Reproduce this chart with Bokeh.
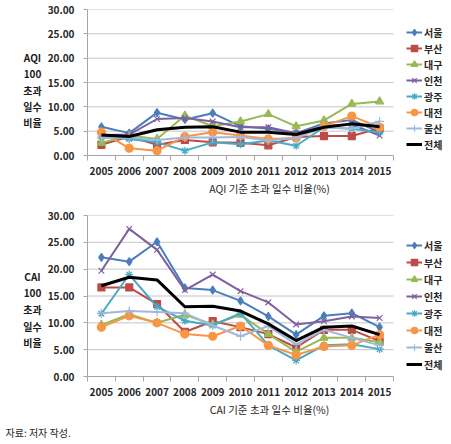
from bokeh.plotting import figure
from bokeh.models import (Legend, LegendItem, Title, FixedTicker,
                          NumeralTickFormatter, Range1d)
from bokeh.core.properties import value
from bokeh.layouts import column, row
from bokeh.embed import file_html
from bokeh.resources import INLINE

# ---------------- data ----------------
years = ["2005", "2006", "2007", "2008", "2009", "2010",
         "2011", "2012", "2013", "2014", "2015"]
regions = ["서울", "부산", "대구", "인천", "광주", "대전", "울산", "전체"]
y_ticks = [0, 5, 10, 15, 20, 25, 30]

aqi_seoul = [5.9, 4.6, 8.8, 7.4, 8.7, 6.0, 5.5, 4.6, 6.6, 7.3, 4.8]
aqi_busan = [2.2, 3.9, 2.2, 3.2, 2.7, 2.6, 2.1, 3.8, 4.0, 4.0, 5.6]
aqi_daegu = [2.6, 4.1, 3.4, 8.2, 6.0, 7.0, 8.5, 6.0, 7.2, 10.6, 11.1]
aqi_incheon = [4.2, 4.3, 7.5, 7.7, 7.0, 5.8, 5.8, 4.6, 6.0, 6.4, 4.1]
aqi_gwangju = [3.8, 3.4, 2.7, 1.0, 2.7, 2.3, 3.1, 2.0, 5.8, 5.5, 4.8]
aqi_daejeon = [4.8, 1.5, 1.0, 3.9, 4.8, 4.1, 3.4, 3.6, 6.0, 8.1, 5.8]
aqi_ulsan = [3.6, 3.7, 3.2, 3.7, 3.7, 3.8, 3.1, 3.6, 5.8, 5.5, 7.0]
aqi_total = [4.2, 3.9, 5.3, 5.8, 5.9, 4.8, 4.8, 4.3, 5.8, 6.5, 5.9]

cai_seoul = [22.2, 21.4, 25.1, 16.5, 16.1, 14.1, 11.2, 7.8, 11.3, 11.8, 9.2]
cai_busan = [16.6, 16.6, 13.5, 8.3, 10.3, 9.2, 7.9, 5.4, 8.7, 8.7, 6.6]
cai_daegu = [9.6, 11.6, 10.0, 11.5, 9.7, 11.5, 7.9, 4.6, 7.2, 7.2, 6.4]
cai_incheon = [19.7, 27.5, 23.6, 16.1, 19.0, 15.9, 13.8, 9.7, 10.3, 11.2, 10.9]
cai_gwangju = [11.7, 19.0, 13.0, 10.4, 9.5, 11.8, 5.8, 3.0, 5.8, 6.0, 5.1]
cai_daejeon = [9.2, 11.3, 10.0, 7.9, 7.5, 9.4, 5.8, 4.0, 5.6, 5.8, 7.8]
cai_ulsan = [11.8, 12.2, 12.0, 11.8, 9.5, 7.5, 9.4, 6.0, 8.7, 7.2, 5.8]
cai_total = [16.9, 18.5, 18.0, 13.0, 13.1, 12.2, 9.8, 6.7, 9.2, 9.4, 7.8]

aqi_series = [aqi_seoul, aqi_busan, aqi_daegu, aqi_incheon,
              aqi_gwangju, aqi_daejeon, aqi_ulsan, aqi_total]
cai_series = [cai_seoul, cai_busan, cai_daegu, cai_incheon,
              cai_gwangju, cai_daejeon, cai_ulsan, cai_total]

aqi_axis_lines = ["AQI", "100", "초과", "일수", "비율"]
cai_axis_lines = ["CAI", "100", "초과", "일수", "비율"]
aqi_title = "AQI 기준 초과 일수 비율(%)"
cai_title = "CAI 기준 초과 일수 비율(%)"
source_note = "자료: 저자 작성."

# ---------------- styles ----------------
FONT = "Noto Sans CJK KR"
colors = ["#4A7EBB", "#BE4B48", "#98B954", "#7D60A0",
          "#46AAC5", "#F79646", "#A0B8DD", "#000000"]
markers = ["diamond", "square", "triangle", "x", "asterisk",
           "circle", "cross", None]
msizes = [8, 7, 8, 8, 8, 8, 9, 0]
PX_PER_CAT = 27.82
LABEL_W = 44
LEFT = 42
FRAME_W = 364
TOTAL_W = LABEL_W + LEFT + FRAME_W


def text_panel(width, height):
    """Axis-less panel whose data units are pixels (y downwards)."""
    q = figure(frame_width=width, frame_height=height,
               min_border_left=0, min_border_right=0,
               min_border_top=0, min_border_bottom=0,
               x_range=Range1d(0, width), y_range=Range1d(height, 0),
               x_axis_type=None, y_axis_type=None,
               output_backend="svg", toolbar_location=None)
    q.outline_line_color = None
    q.grid.grid_line_color = None
    return q


def make_label_panel(lines, fig_h, first_y, step):
    q = text_panel(LABEL_W, fig_h)
    ys = [first_y + i * step for i in range(len(lines))]
    q.text(x=[32] * len(lines), y=ys, text=lines,
           text_align="center", text_baseline="middle",
           text_font=value(FONT), text_font_style="bold",
           text_font_size="10px", text_color="#1A1A1A")
    return q


def make_chart(series, frame_h, top_b, bottom_b, title,
               legend_loc, legend_lh, legend_sp):
    n = len(years)
    xs = [i + 0.5 for i in range(n)]
    p = figure(frame_width=FRAME_W, frame_height=frame_h,
               min_border_left=LEFT, min_border_right=0,
               min_border_top=top_b, min_border_bottom=bottom_b,
               x_range=Range1d(0, FRAME_W / PX_PER_CAT), y_range=Range1d(0, 30),
               output_backend="svg", toolbar_location=None)
    p.outline_line_color = None
    p.background_fill_color = "white"
    p.border_fill_color = "white"

    # y axis
    p.yaxis.ticker = FixedTicker(ticks=y_ticks)
    p.yaxis.formatter = NumeralTickFormatter(format="0.00")
    p.yaxis.major_tick_in = 0
    p.yaxis.major_tick_out = 4
    p.yaxis.minor_tick_line_color = None
    p.yaxis.axis_line_color = "#A6A6A6"
    p.yaxis.major_tick_line_color = "#A6A6A6"
    p.yaxis.major_label_standoff = 9

    # x axis: labels at category centres, ticks at category borders
    p.xaxis.bounds = (0, n)
    p.xaxis.ticker = FixedTicker(ticks=xs, minor_ticks=list(range(n + 1)))
    p.xaxis.major_label_overrides = {x: y for x, y in zip(xs, years)}
    p.xaxis.major_tick_line_color = None
    p.xaxis.major_tick_in = 0
    p.xaxis.major_tick_out = 0
    p.xaxis.minor_tick_in = 0
    p.xaxis.minor_tick_out = 5
    p.xaxis.minor_tick_line_color = "#A6A6A6"
    p.xaxis.axis_line_color = "#A6A6A6"
    p.xaxis.major_label_standoff = 6

    for ax in (p.xaxis, p.yaxis):
        ax.major_label_text_font = FONT
        ax.major_label_text_font_style = "bold"
        ax.major_label_text_font_size = "10px"
        ax.major_label_text_color = "#262626"

    # grid lines only across the data area
    p.xgrid.grid_line_color = None
    p.ygrid.grid_line_color = None
    gy = y_ticks[1:]
    p.segment(x0=[0] * len(gy), x1=[n] * len(gy), y0=gy, y1=gy,
              line_color="#C4C4C4", line_width=1)

    items = []
    for name, vals, c, m, ms in zip(regions, series, colors, markers, msizes):
        lw = 3 if m is None else 2
        r_line = p.line(xs, vals, line_color=c, line_width=lw)
        rends = [r_line]
        if m is not None:
            r_s = p.scatter(xs, vals, marker=m, size=ms, fill_color=c,
                            line_color=c, line_width=1.2)
            rends.append(r_s)
        items.append(LegendItem(label=name, renderers=rends))

    legend = Legend(items=items, location=legend_loc)
    legend.padding = 0
    legend.margin = 0
    legend.spacing = legend_sp
    legend.label_height = legend_lh
    legend.glyph_height = legend_lh
    legend.glyph_width = 16
    legend.label_standoff = 2
    legend.label_text_font = FONT
    legend.label_text_font_style = "bold"
    legend.label_text_font_size = "10px"
    legend.label_text_color = "#262626"
    legend.background_fill_alpha = 0
    legend.border_line_color = None
    p.add_layout(legend)

    t = Title(text=title, align="center", offset=-38, standoff=2,
              text_font=FONT, text_font_style="normal",
              text_font_size="10.5px", text_color="#262626")
    p.add_layout(t, "below")
    return p


TOP_H = 9 + 146 + 51
BOT_H = 9 + 161 + 45
NOTE_H = 22

p1 = make_chart(aqi_series, 146, 9, 51, aqi_title, (319, 3), 16, 0)
p2 = make_chart(cai_series, 161, 9, 45, cai_title, (319, 4), 16, 1)
l1 = make_label_panel(aqi_axis_lines, TOP_H, 48, 16.3)
l2 = make_label_panel(cai_axis_lines, BOT_H, 61, 16.5)

note = text_panel(TOTAL_W, NOTE_H)
note.text(x=[5], y=[11], text=[source_note], text_align="left",
          text_baseline="middle", text_font=value(FONT),
          text_font_size="10px", text_color="#262626")

layout = column(row(l1, p1, spacing=0), row(l2, p2, spacing=0), note,
                spacing=0)
open("out.html", "w").write(file_html(layout, INLINE))
